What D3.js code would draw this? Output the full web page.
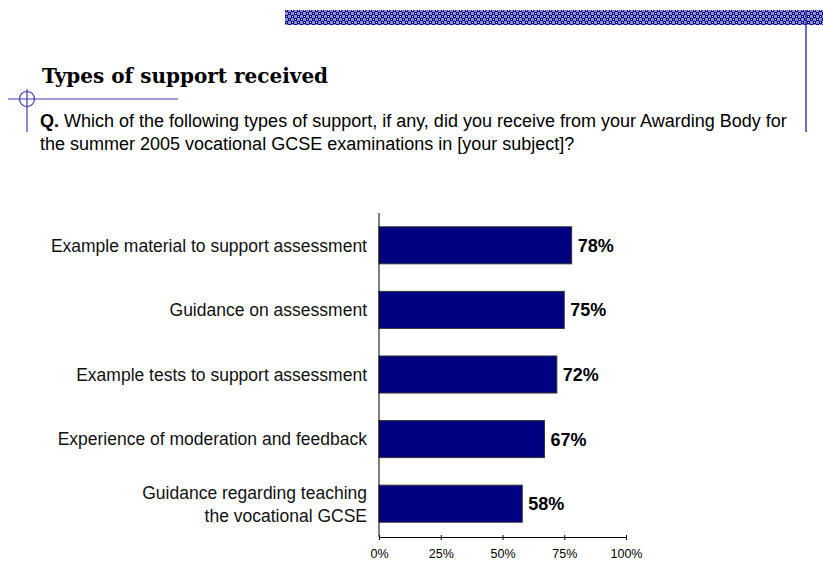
<!DOCTYPE html>
<html>
<head>
<meta charset="utf-8">
<script src="https://cdn.jsdelivr.net/npm/d3@7"></script>
<style>
  html, body { margin: 0; padding: 0; background: #fff; }
  svg { display: block; }
</style>
</head>
<body>
<svg id="chart" width="823" height="562"></svg>
<script>
// ---- data ----
const categories = [
  "Example material to support assessment",
  "Guidance on assessment",
  "Example tests to support assessment",
  "Experience of moderation and feedback",
  "Guidance regarding teaching|the vocational GCSE"
];
const values = [78, 75, 72, 67, 58];
const tickValues = [0, 25, 50, 75, 100];
const tickLabels = ["0%", "25%", "50%", "75%", "100%"];
const titleText = "Types of support received";
const questionLines = [
  "Which of the following types of support, if any, did you receive from your Awarding Body for",
  "the summer 2005 vocational GCSE examinations in [your subject]?"
];

const svg = d3.select("#chart");
const blue = "#3c3cb4";
const sans = "'Liberation Sans', Arial, sans-serif";

// ---- decorative header ----
const defs = svg.append("defs");
const pat = defs.append("pattern")
  .attr("id", "chk").attr("patternUnits", "userSpaceOnUse")
  .attr("width", 6).attr("height", 6);
pat.append("rect").attr("width", 6).attr("height", 6).attr("fill", "#8c8cc8");
pat.append("rect").attr("x", 0).attr("y", 0).attr("width", 3).attr("height", 3).attr("fill", "#0a0a8c");
pat.append("rect").attr("x", 3).attr("y", 3).attr("width", 3).attr("height", 3).attr("fill", "#0a0a8c");
pat.append("rect").attr("x", 1).attr("y", 1).attr("width", 1).attr("height", 1).attr("fill", "#e0e0f4");
pat.append("rect").attr("x", 4).attr("y", 4).attr("width", 1).attr("height", 1).attr("fill", "#e0e0f4");

svg.append("rect").attr("x", 285).attr("y", 10).attr("width", 538).attr("height", 15)
  .attr("fill", "url(#chk)");
svg.append("line").attr("x1", 806).attr("x2", 806).attr("y1", 10).attr("y2", 132)
  .attr("stroke", blue).attr("stroke-width", 1.5);

// crosshair
svg.append("line").attr("x1", 8).attr("x2", 178).attr("y1", 99).attr("y2", 99)
  .attr("stroke", blue).attr("stroke-width", 1.2);
svg.append("line").attr("x1", 27).attr("x2", 27).attr("y1", 89).attr("y2", 132)
  .attr("stroke", blue).attr("stroke-width", 1.2);
svg.append("circle").attr("cx", 27).attr("cy", 99).attr("r", 7.5)
  .attr("fill", "none").attr("stroke", blue).attr("stroke-width", 1.2);

// title
svg.append("text").attr("x", 42).attr("y", 83)
  .attr("font-family", "'DejaVu Serif', serif").attr("font-weight", "bold")
  .attr("font-size", 20).attr("fill", "#000").text(titleText);

// question
const q = svg.append("text").attr("font-family", sans)
  .attr("font-size", 18).attr("fill", "#000");
q.append("tspan").attr("x", 40).attr("y", 127).attr("font-weight", "bold").text("Q.");
q.append("tspan").text(" " + questionLines[0]);
q.append("tspan").attr("x", 40).attr("y", 150).text(questionLines[1]);

// ---- chart ----
const x = d3.scaleLinear().domain([0, 100]).range([379, 626]);
const y = d3.scaleBand().domain(categories).range([213, 536])
  .paddingInner(0.427).paddingOuter(0.2135);

const g = svg.append("g");

g.selectAll("rect.bar").data(values).join("rect")
  .attr("class", "bar")
  .attr("x", x(0))
  .attr("y", (d, i) => y(categories[i]))
  .attr("width", d => x(d) - x(0))
  .attr("height", y.bandwidth())
  .attr("fill", "#000080")
  .attr("stroke", "#333")
  .attr("stroke-width", 1);

g.selectAll("text.val").data(values).join("text")
  .attr("class", "val")
  .attr("x", d => x(d) + 6)
  .attr("y", (d, i) => y(categories[i]) + y.bandwidth() / 2)
  .attr("dy", "0.36em")
  .attr("font-family", sans)
  .attr("font-weight", "bold").attr("font-size", 18)
  .attr("fill", "#000")
  .text(d => d + "%");

// category labels
categories.forEach((c, i) => {
  const lines = c.split("|");
  const cy = y(c) + y.bandwidth() / 2;
  const lh = 23;
  const t = g.append("text")
    .attr("text-anchor", "end")
    .attr("font-family", sans)
    .attr("font-size", 17.5).attr("fill", "#111");
  lines.forEach((ln, k) => {
    t.append("tspan").attr("x", 367)
      .attr("y", cy + (k - (lines.length - 1) / 2) * lh)
      .attr("dy", "0.36em").text(ln);
  });
});

// y axis line
g.append("line").attr("x1", x(0)).attr("x2", x(0)).attr("y1", 213).attr("y2", 537)
  .attr("stroke", "#000").attr("stroke-width", 1);

// x axis
const xAxis = d3.axisBottom(x).tickValues(tickValues)
  .tickFormat((d, i) => tickLabels[i]).tickSize(4).tickSizeOuter(0);
const ax = g.append("g").attr("transform", "translate(0,537)").call(xAxis);
ax.select(".domain").attr("stroke", "#000");
ax.selectAll(".tick line").attr("stroke", "#000").attr("y1", -2).attr("y2", 3);
ax.selectAll(".tick text")
  .attr("font-family", sans)
  .attr("font-size", 12.5).attr("fill", "#000").attr("y", 12);
</script>
</body>
</html>
